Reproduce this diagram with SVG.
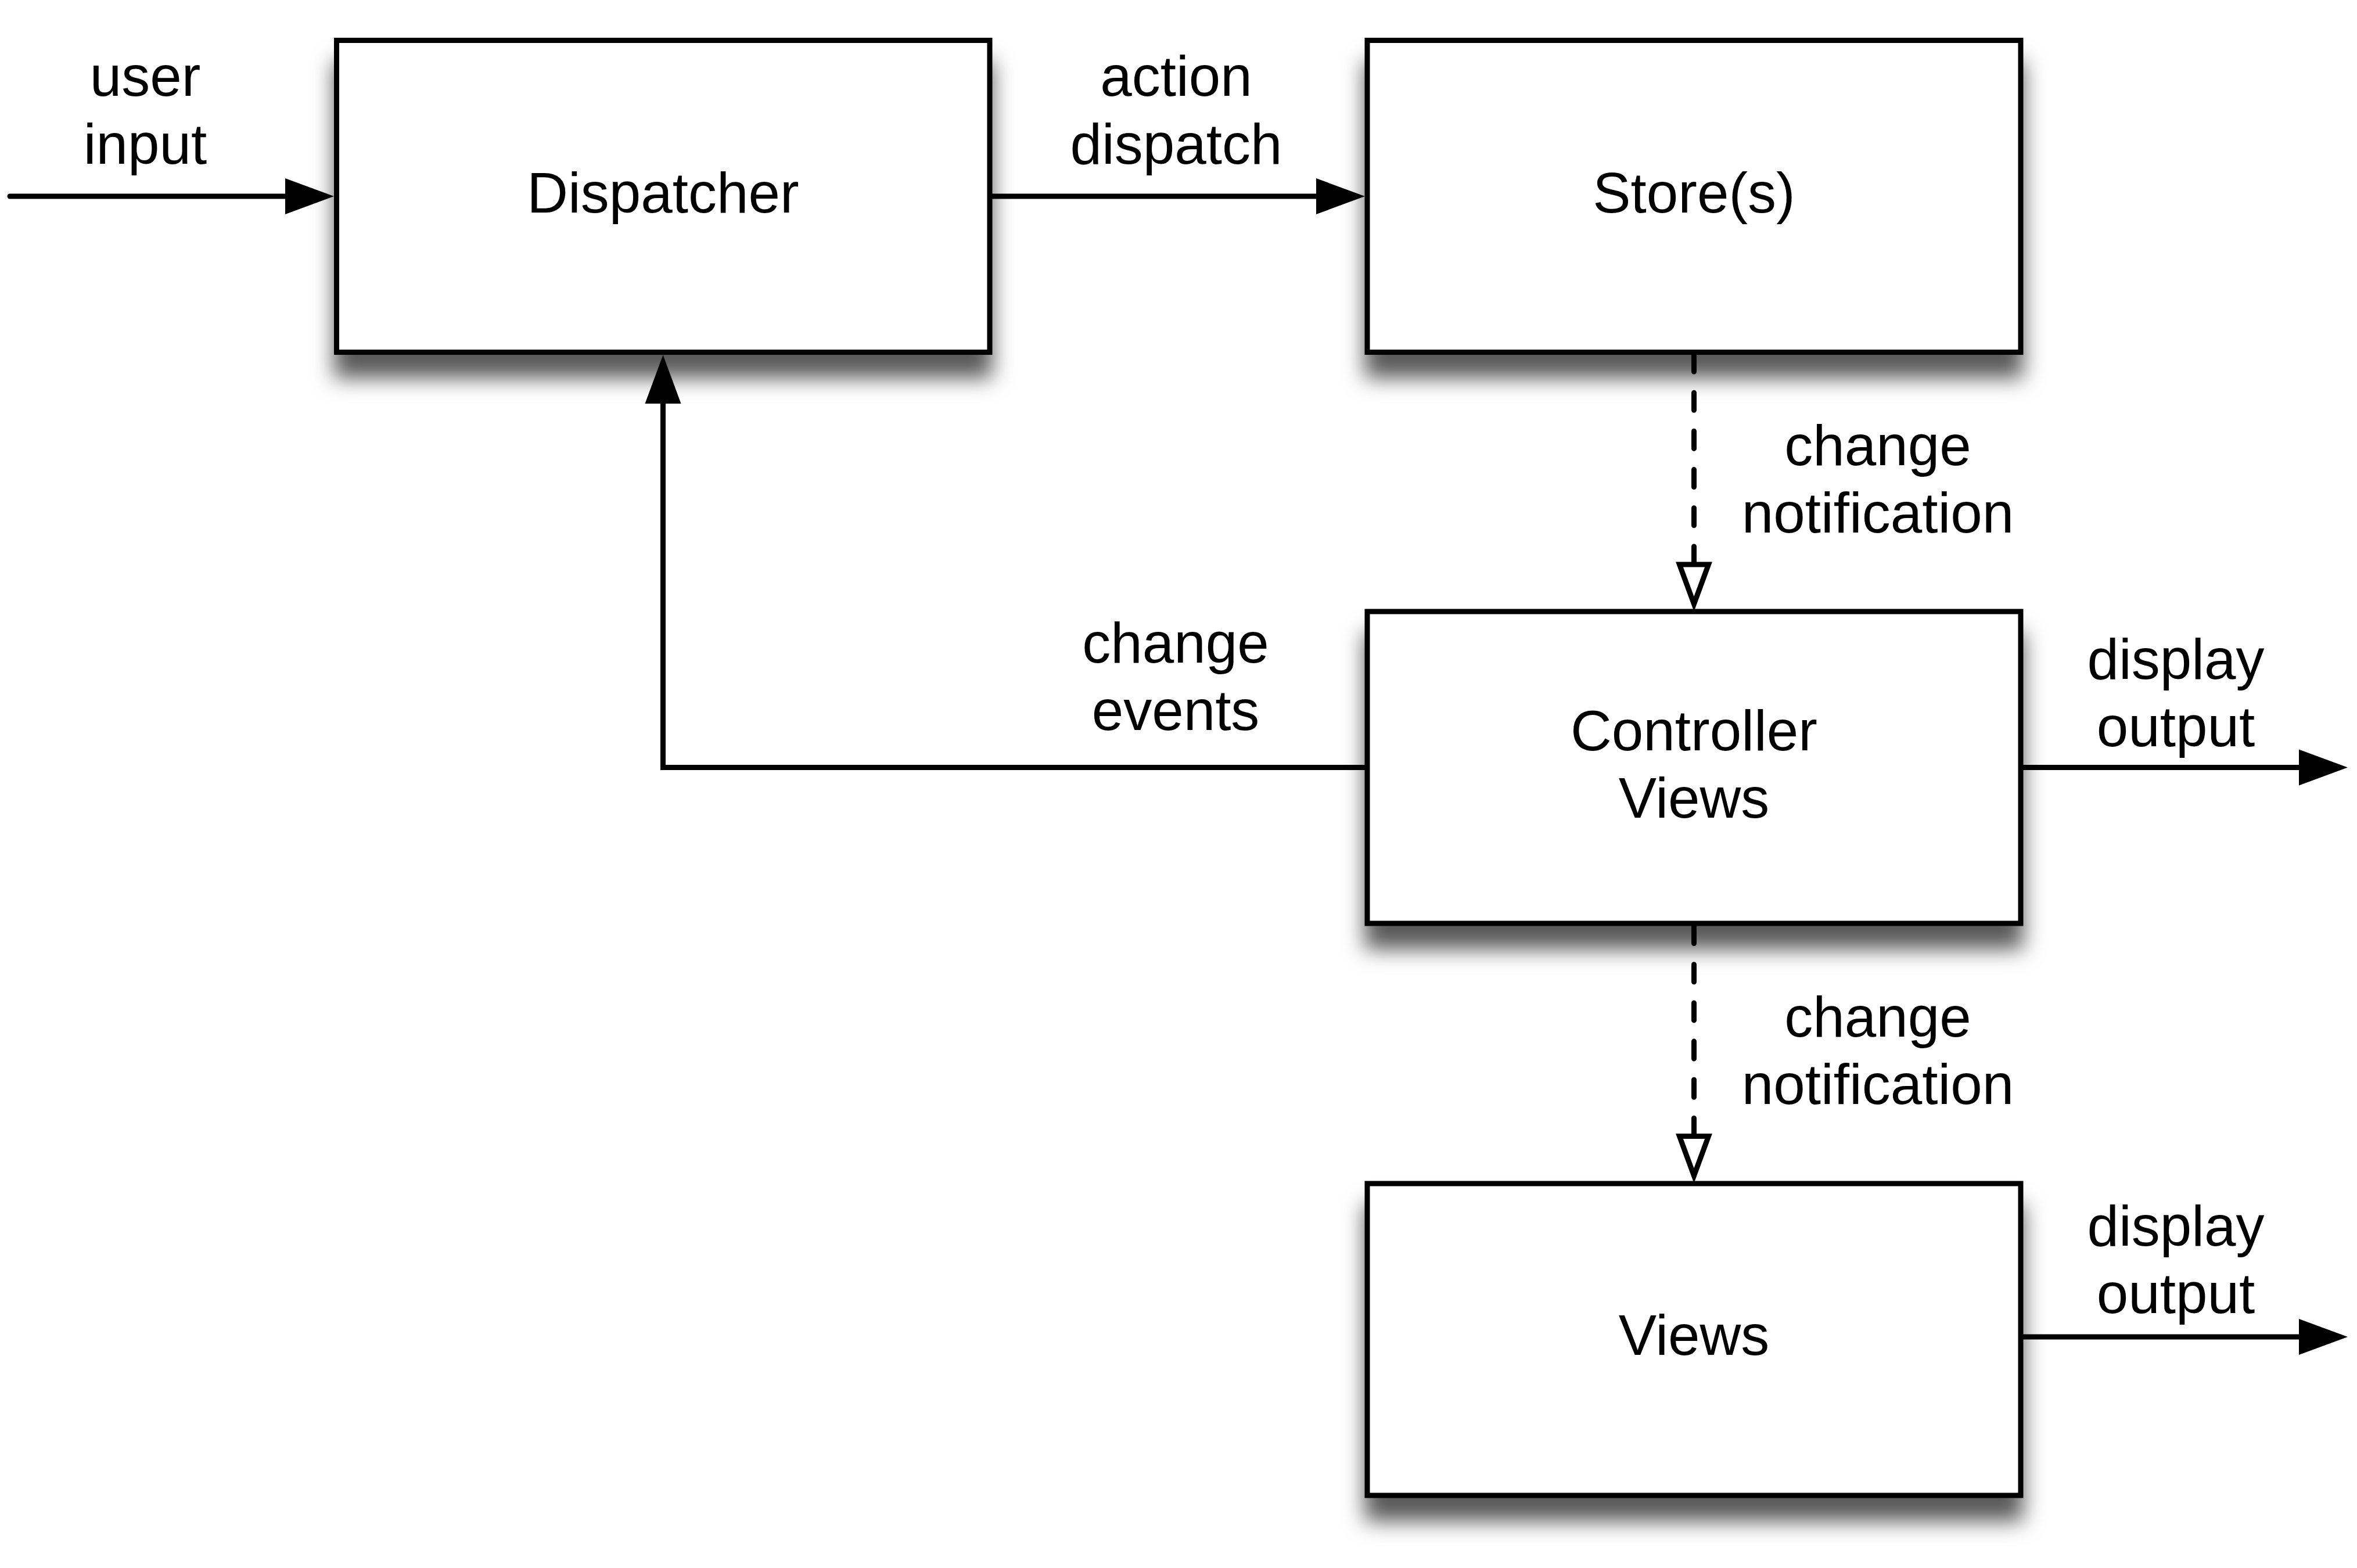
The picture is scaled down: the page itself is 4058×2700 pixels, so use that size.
<svg xmlns="http://www.w3.org/2000/svg" width="4058" height="2700" viewBox="0 0 4058 2700">
  <style>
    .box { fill: #ffffff; stroke: #000000; stroke-width: 9; filter: url(#shadow); }
    .lbl { font-family: "Liberation Sans", Arial, Helvetica, sans-serif; font-size: 98px; fill: #000000; text-anchor: middle; }
    .conn { fill: none; stroke: #000000; stroke-width: 9; stroke-linejoin: miter; }
    .solid { marker-end: url(#arrowFilled); }
    .dash { stroke-dasharray: 30 36.2; stroke-linecap: round; marker-end: url(#arrowOpen); }
  </style>
  <defs>
    <filter id="shadow" x="-10%" y="-20%" width="120%" height="150%">
      <feDropShadow dx="0" dy="40" stdDeviation="18" flood-color="#000000" flood-opacity="0.65"/>
    </filter>
    <marker id="arrowFilled" markerUnits="userSpaceOnUse" orient="auto" refX="44" refY="31" markerWidth="90" markerHeight="70" overflow="visible">
      <path d="M0,0 L84,31 L0,62 Z" fill="#000000"/>
    </marker>
    <marker id="arrowOpen" markerUnits="userSpaceOnUse" orient="auto" refX="0" refY="0" markerWidth="100" markerHeight="100" overflow="visible">
      <path d="M0,-25 L68,0 L0,25 Z" fill="#ffffff" stroke="#000000" stroke-width="9" stroke-linejoin="miter"/>
    </marker>
  </defs>

  <rect x="0" y="0" width="4058" height="2700" fill="#ffffff"/>

  <g id="connectors">
    <path id="c-user-input" class="conn solid" d="M17,338 H535" stroke-linecap="round"/>
    <path id="c-action-dispatch" class="conn solid" d="M1704,338 H2310"/>
    <path id="c-change-events" class="conn solid" d="M2354,1321.5 H1141.5 V651"/>
    <path id="c-display-output-1" class="conn solid" d="M3479,1321.5 H4002"/>
    <path id="c-display-output-2" class="conn solid" d="M3479,2302 H4002"/>
    <path id="c-change-notification-1" class="conn dash" d="M2916.5,610 V972"/>
    <path id="c-change-notification-2" class="conn dash" d="M2916.5,1594.5 V1956.5"/>
  </g>

  <g id="node-dispatcher">
    <rect class="box" x="579.5" y="69.5" width="1124.5" height="537"/>
    <text class="lbl" x="1141.5" y="366">Dispatcher</text>
  </g>

  <g id="node-stores">
    <rect class="box" x="2354" y="69.5" width="1125" height="537"/>
    <text class="lbl" x="2916.5" y="366">Store(s)</text>
  </g>

  <g id="node-controller-views">
    <rect class="box" x="2354" y="1053" width="1125" height="537"/>
    <text class="lbl" x="2916.5" y="1292">Controller</text>
    <text class="lbl" x="2916.5" y="1408">Views</text>
  </g>

  <g id="node-views">
    <rect class="box" x="2354" y="2038" width="1125" height="537"/>
    <text class="lbl" x="2916.5" y="2333">Views</text>
  </g>

  <g id="labels">
    <text class="lbl" x="250" y="165">user</text>
    <text class="lbl" x="250" y="282">input</text>
    <text class="lbl" x="2025" y="165">action</text>
    <text class="lbl" x="2025" y="282">dispatch</text>
    <text class="lbl" x="3233" y="801">change</text>
    <text class="lbl" x="3233" y="917">notification</text>
    <text class="lbl" x="2024" y="1141">change</text>
    <text class="lbl" x="2024" y="1257">events</text>
    <text class="lbl" x="3746" y="1169">display</text>
    <text class="lbl" x="3746" y="1285">output</text>
    <text class="lbl" x="3233" y="1785">change</text>
    <text class="lbl" x="3233" y="1901">notification</text>
    <text class="lbl" x="3746" y="2145">display</text>
    <text class="lbl" x="3746" y="2261">output</text>
  </g>
</svg>
